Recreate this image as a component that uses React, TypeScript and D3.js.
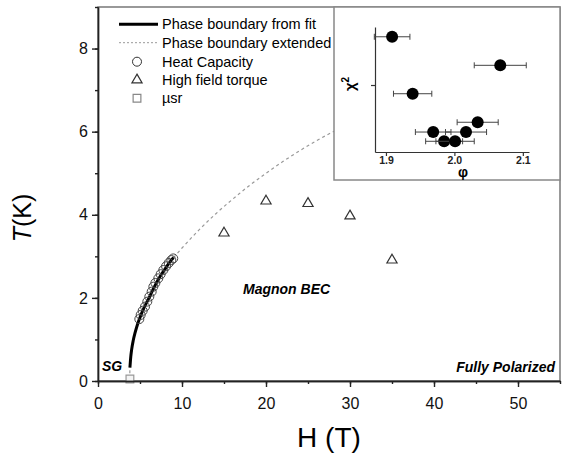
import React, { useEffect, useRef } from "react";
import * as d3 from "d3";

// phase boundary from fit (solid)
const fitH = [3.8, 3.9, 4.0, 4.2, 4.4, 4.7, 5.0, 5.5, 6.0, 6.5, 7.0, 7.5, 8.0, 8.5, 9.0];
const fitT = [0.32, 0.58, 0.75, 0.98, 1.15, 1.36, 1.53, 1.77, 1.97, 2.18, 2.38, 2.55, 2.7, 2.85, 2.97];
// extended boundary (dashed)
const lowH = [3.78, 3.8];
const lowT = [0.04, 0.32];
const extH = [9.0, 10, 12, 14, 16, 18, 20, 22, 24, 26, 28, 29];
const extT = [2.97, 3.2, 3.63, 4.02, 4.37, 4.7, 5.0, 5.28, 5.54, 5.78, 6.0, 6.1];
// heat capacity
const hcH = [4.92, 5.08, 5.32, 5.6, 5.87, 6.11, 6.39, 6.59, 6.83, 7.18, 7.46, 7.78, 8.1, 8.42, 8.73, 8.96];
const hcT = [1.49, 1.59, 1.69, 1.79, 1.91, 2.03, 2.15, 2.27, 2.36, 2.47, 2.57, 2.67, 2.76, 2.84, 2.91, 2.95];
// high field torque
const torqueH = [15, 20, 25, 30, 35];
const torqueT = [3.56, 4.33, 4.27, 3.97, 2.91];
// muSR
const musrH = [3.8];
const musrT = [0.05];

const xTicks = [0, 10, 20, 30, 40, 50];
const yTicks = [0, 2, 4, 6, 8];

// inset: chi^2 vs phi
const phi = [1.909, 2.067, 1.939, 2.034, 1.969, 2.017, 1.985, 2.001];
const phiErr = [0.026, 0.038, 0.028, 0.03, 0.026, 0.03, 0.027, 0.028];
const chi2 = [0.86, 0.647, 0.435, 0.222, 0.149, 0.149, 0.08, 0.08];
const phiTicks = [1.9, 2.0, 2.1];

const legendLabels = [
  "Phase boundary from fit",
  "Phase boundary extended",
  "Heat Capacity",
  "High field torque",
  "\u00b5sr",
];

const FONT = "'Liberation Sans', Arial, sans-serif";

export default function App() {
  const svgRef = useRef<SVGSVGElement>(null);

  useEffect(() => {
    const svg = d3.select(svgRef.current);
    svg.selectAll("*").remove();

    const x = d3.scaleLinear().domain([0, 55]).range([98, 560]);
    const y = d3.scaleLinear().domain([0, 9]).range([381, 7]);

    // frame
    svg
      .append("rect")
      .attr("x", x(0))
      .attr("y", y(9))
      .attr("width", x(55) - x(0))
      .attr("height", y(0) - y(9))
      .attr("fill", "none")
      .attr("stroke", "#555")
      .attr("stroke-width", 1.2);

    const line = d3
      .line<[number, number]>()
      .x((d) => x(d[0]))
      .y((d) => y(d[1]))
      .curve(d3.curveMonotoneX);

    const dashedPts: [number, number][] = [
      ...lowH.map((h, i) => [h, lowT[i]] as [number, number]),
      ...fitH.slice(1).map((h, i) => [h, fitT[i + 1]] as [number, number]),
      ...extH.slice(1).map((h, i) => [h, extT[i + 1]] as [number, number]),
    ];
    svg
      .append("path")
      .attr("d", line(dashedPts))
      .attr("fill", "none")
      .attr("stroke", "#999")
      .attr("stroke-width", 1.2)
      .attr("stroke-dasharray", "3,3");

    svg
      .append("path")
      .attr("d", line(fitH.map((h, i) => [h, fitT[i]] as [number, number])))
      .attr("fill", "none")
      .attr("stroke", "#000")
      .attr("stroke-width", 3);

    svg
      .selectAll(".hc")
      .data(hcH)
      .enter()
      .append("circle")
      .attr("cx", (d) => x(d))
      .attr("cy", (d, i) => y(hcT[i]))
      .attr("r", 4.5)
      .attr("fill", "none")
      .attr("stroke", "#444")
      .attr("stroke-width", 1);

    const tri = d3.symbol().type(d3.symbolTriangle).size(45);
    svg
      .selectAll(".tq")
      .data(torqueH)
      .enter()
      .append("path")
      .attr("d", tri)
      .attr("transform", (d, i) => `translate(${x(d)},${y(torqueT[i])})`)
      .attr("fill", "none")
      .attr("stroke", "#333")
      .attr("stroke-width", 1.2);

    const sq = d3.symbol().type(d3.symbolSquare).size(60);
    svg
      .selectAll(".mu")
      .data(musrH)
      .enter()
      .append("path")
      .attr("d", sq)
      .attr("transform", (d, i) => `translate(${x(d)},${y(musrT[i])})`)
      .attr("fill", "#f4f4f4")
      .attr("stroke", "#999")
      .attr("stroke-width", 1.2);

    // region labels
    const region = (t: string, px: number, py: number, anchor: string) =>
      svg
        .append("text")
        .attr("x", px)
        .attr("y", py)
        .attr("text-anchor", anchor)
        .style("font-family", FONT)
        .style("font-size", "14px")
        .style("font-weight", "bold")
        .style("font-style", "italic")
        .text(t);
    region("Magnon BEC", 243, 293.5, "start");
    region("Fully Polarized", 555, 372, "end");
    region("SG", 102, 371, "start");

    // legend
    const legY = [24.3, 42.7, 61.7, 80, 98.3];
    const leg = svg.append("g");
    leg
      .append("line")
      .attr("x1", 119)
      .attr("x2", 158)
      .attr("y1", legY[0])
      .attr("y2", legY[0])
      .attr("stroke", "#000")
      .attr("stroke-width", 3);
    leg
      .append("line")
      .attr("x1", 119)
      .attr("x2", 158)
      .attr("y1", legY[1])
      .attr("y2", legY[1])
      .attr("stroke", "#999")
      .attr("stroke-width", 1)
      .attr("stroke-dasharray", "2,2");
    leg
      .append("circle")
      .attr("cx", 137)
      .attr("cy", legY[2])
      .attr("r", 4.5)
      .attr("fill", "none")
      .attr("stroke", "#333");
    leg
      .append("path")
      .attr("d", tri)
      .attr("transform", `translate(137,${legY[3]})`)
      .attr("fill", "none")
      .attr("stroke", "#333")
      .attr("stroke-width", 1.2);
    leg
      .append("path")
      .attr("d", sq)
      .attr("transform", `translate(137,${legY[4]})`)
      .attr("fill", "none")
      .attr("stroke", "#888")
      .attr("stroke-width", 1.2);
    leg
      .selectAll(".lt")
      .data(legendLabels)
      .enter()
      .append("text")
      .attr("x", 162)
      .attr("y", (d, i) => legY[i])
      .attr("dy", "0.35em")
      .style("font-family", FONT)
      .style("font-size", "14.5px")
      .text((d) => d);

    // axes
    const yMinor = svg.append("g").attr("transform", `translate(${x(0)},0)`);
    yMinor.call(d3.axisLeft(y).tickValues(d3.range(0, 10, 1)).tickSize(3).tickSizeOuter(0).tickFormat(() => ""));
    const yAx = svg.append("g").attr("transform", `translate(${x(0)},0)`);
    yAx.call(d3.axisLeft(y).tickValues(yTicks).tickSize(6).tickSizeOuter(0).tickPadding(4));
    const xMinor = svg.append("g").attr("transform", `translate(0,${y(0)})`);
    xMinor.call(d3.axisBottom(x).tickValues(d3.range(0, 56, 5)).tickSize(3).tickSizeOuter(0).tickFormat(() => ""));
    const xAx = svg.append("g").attr("transform", `translate(0,${y(0)})`);
    xAx.call(d3.axisBottom(x).tickValues(xTicks).tickSize(6).tickSizeOuter(0).tickPadding(11));
    [yMinor, yAx, xMinor, xAx].forEach((g) => {
      g.selectAll("path,line").attr("stroke", "#222").attr("stroke-width", 1.4);
      g.selectAll("text").style("font-family", FONT).style("font-size", "16px").attr("fill", "#111");
    });

    svg
      .append("text")
      .attr("transform", "translate(31,218) rotate(-90)")
      .attr("text-anchor", "middle")
      .style("font-family", FONT)
      .style("font-size", "25px")
      .html("<tspan font-style='italic'>T</tspan>(K)");
    svg
      .append("text")
      .attr("x", 329)
      .attr("y", 447)
      .attr("text-anchor", "middle")
      .style("font-family", FONT)
      .style("font-size", "28px")
      .text("H (T)");

    // inset
    const inset = svg.append("g");
    inset
      .append("rect")
      .attr("x", 334)
      .attr("y", 7)
      .attr("width", 226)
      .attr("height", 173)
      .attr("fill", "#fff")
      .attr("stroke", "#888")
      .attr("stroke-width", 1.5);

    const ix = d3.scaleLinear().domain([1.884, 2.109]).range([375, 529]);
    const iy = d3.scaleLinear().domain([0, 0.933]).range([152, 27]);

    const ixAx = inset.append("g").attr("transform", `translate(0,${iy(0)})`);
    ixAx.call(d3.axisBottom(ix).tickValues(phiTicks).tickSize(4).tickSizeOuter(0).tickPadding(1).tickFormat(d3.format(".1f")));
    const iyAx = inset.append("g").attr("transform", `translate(${ix(1.884)},0)`);
    iyAx.call(d3.axisLeft(iy).tickValues([0.5]).tickSize(4).tickSizeOuter(0).tickFormat(() => ""));
    [ixAx, iyAx].forEach((g) => {
      g.selectAll("path,line").attr("stroke", "#333").attr("stroke-width", 1.2);
      g.selectAll("text")
        .style("font-family", FONT)
        .style("font-size", "10.5px")
        .style("font-weight", "bold")
        .attr("fill", "#222");
    });

    const bars = inset.selectAll(".eb").data(phi).enter().append("g");
    bars
      .append("line")
      .attr("x1", (d, i) => ix(d - phiErr[i]))
      .attr("x2", (d, i) => ix(d + phiErr[i]))
      .attr("y1", (d, i) => iy(chi2[i]))
      .attr("y2", (d, i) => iy(chi2[i]))
      .attr("stroke", "#444")
      .attr("stroke-width", 1);
    [-1, 1].forEach((s) => {
      bars
        .append("line")
        .attr("x1", (d, i) => ix(d + s * phiErr[i]))
        .attr("x2", (d, i) => ix(d + s * phiErr[i]))
        .attr("y1", (d, i) => iy(chi2[i]) - 3)
        .attr("y2", (d, i) => iy(chi2[i]) + 3)
        .attr("stroke", "#444")
        .attr("stroke-width", 1);
    });
    bars
      .append("circle")
      .attr("cx", (d) => ix(d))
      .attr("cy", (d, i) => iy(chi2[i]))
      .attr("r", 6)
      .attr("fill", "#000");

    inset
      .append("text")
      .attr("transform", "translate(355,84) rotate(-90)")
      .attr("text-anchor", "middle")
      .style("font-family", FONT)
      .style("font-size", "15px")
      .style("font-weight", "bold")
      .html("\u03c7<tspan dy='-6' font-size='10px'>2</tspan>");
    inset
      .append("text")
      .attr("x", 463)
      .attr("y", 177)
      .attr("text-anchor", "middle")
      .style("font-family", FONT)
      .style("font-size", "14px")
      .style("font-weight", "bold")
      .text("\u03c6");
  }, []);

  return (
    <svg
      ref={svgRef}
      width={568}
      height={457}
      style={{ position: "absolute", left: 0, top: 0, background: "#fff" }}
    />
  );
}
